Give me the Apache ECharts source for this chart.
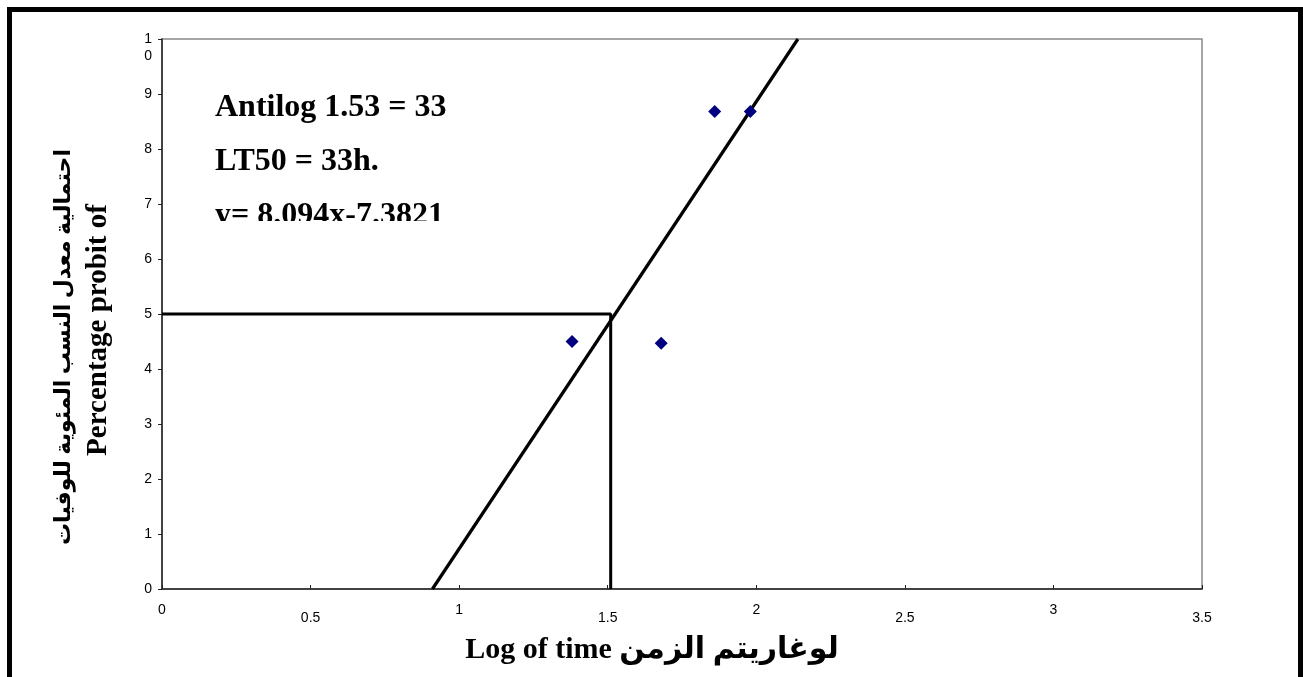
<!DOCTYPE html>
<html>
<head>
<meta charset="utf-8">
<title>LT50 probit</title>
<script src="https://cdn.jsdelivr.net/npm/echarts@6/dist/echarts.min.js"></script>
<style>
  html, body { margin: 0; padding: 0; background: #fff; }
  #main { width: 1303px; height: 677px; }
</style>
</head>
<body>
<div id="main"></div>
<script>
// 数据：时间对数 与 死亡率概率值
var logTime = [1.38, 1.68, 1.86, 1.98];
var probit = [4.5, 4.47, 8.68, 8.68];
// 回归线两端
var fitX = [0.91, 2.14];
var fitY = [0, 10];
// LT50 引导线
var dropX = [0, 1.51, 1.51];
var dropY = [5, 5, 0];
// 文字
var noteLines = ['Antilog 1.53 = 33', 'LT50 = 33h.', 'y= 8.094x-7.3821'];
var yTitleAr = 'احتمالية معدل النسب المئوية للوفيات';
var yTitleEn = 'Percentage probit of';
var xTitle = 'Log of time لوغاريتم الزمن';

function pairs(xs, ys) {
	var out = [];
	for (var i = 0; i < xs.length; i++) {
		out.push([xs[i], ys[i]]);
	}
	return out;
}

var myChart = echarts.init(document.getElementById('main'));
var serif = '"Times New Roman", "Liberation Serif", "DejaVu Sans", serif';
var sans = 'Arial, "Liberation Sans", sans-serif';

var option = {
	animation: false,
	backgroundColor: '#fff',
	grid: {
		left: 162,
		top: 39,
		right: 101,
		bottom: 88,
		show: true,
		borderColor: '#888',
		borderWidth: 1.5,
		backgroundColor: 'transparent'
	},
	xAxis: {
		type: 'value',
		min: 0,
		max: 3.5,
		interval: 0.5,
		axisLine: { onZero: false, lineStyle: { color: '#222', width: 1.5 } },
		axisTick: { show: true, inside: true, length: 4, lineStyle: { color: '#222' } },
		splitLine: { show: false },
		axisLabel: {
			color: '#000',
			fontFamily: sans,
			fontSize: 14,
			margin: 17,
			lineHeight: 8,
			formatter: function(v) {
				// 半值标签错开一行
				return (v % 1 !== 0) ? ' \n' + v : '' + v;
			}
		}
	},
	yAxis: {
		type: 'value',
		min: 0,
		max: 10,
		interval: 1,
		axisLine: { show: true, onZero: false, lineStyle: { color: '#222', width: 1.5 } },
		axisTick: { show: true, length: 4, lineStyle: { color: '#222' } },
		splitLine: { show: false },
		axisLabel: {
			color: '#000',
			fontFamily: sans,
			fontSize: 14,
			margin: 10,
			lineHeight: 17,
			formatter: function(v) {
				return v === 10 ? ' \n1\n0' : '' + v;
			}
		}
	},
	series: [
		{
			name: 'drop',
			type: 'line',
			data: pairs(dropX, dropY),
			showSymbol: false,
			lineStyle: { color: '#000', width: 3 },
			z: 3
		},
		{
			name: 'fit',
			type: 'line',
			data: pairs(fitX, fitY),
			showSymbol: false,
			lineStyle: { color: '#000', width: 3.2 },
			z: 3
		},
		{
			name: 'probit',
			type: 'scatter',
			data: pairs(logTime, probit),
			symbol: 'diamond',
			symbolSize: 13,
			itemStyle: { color: '#000080', opacity: 1 },
			z: 4
		}
	],
	graphic: [
		// 外框
		{
			type: 'rect',
			shape: { x: 9.5, y: 9.5, width: 1291, height: 720 },
			style: { fill: 'none', stroke: '#000', lineWidth: 5 },
			silent: true
		},
		{
			type: 'text',
			x: 215, y: 108,
			style: { text: noteLines[0], font: 'bold 32px ' + serif, fill: '#000', textVerticalAlign: 'middle' },
			z: 10
		},
		{
			type: 'text',
			x: 215, y: 162,
			style: { text: noteLines[1], font: 'bold 32px ' + serif, fill: '#000', textVerticalAlign: 'middle' },
			z: 10
		},
		{
			type: 'text',
			x: 215, y: 216,
			style: { text: noteLines[2], font: 'bold 32px ' + serif, fill: '#000', textVerticalAlign: 'middle' },
			z: 10
		},
		// 文本框裁切
		{
			type: 'rect',
			shape: { x: 200, y: 221, width: 270, height: 24 },
			style: { fill: '#fff' },
			z: 11
		},
		{
			type: 'text',
			x: 64, y: 347,
			rotation: Math.PI / 2,
			style: { text: yTitleAr, font: 'bold 22px ' + serif, fill: '#000', textAlign: 'center', textVerticalAlign: 'middle' },
			z: 10
		},
		{
			type: 'text',
			x: 99, y: 330,
			rotation: Math.PI / 2,
			style: { text: yTitleEn, font: 'bold 29px ' + serif, fill: '#000', textAlign: 'center', textVerticalAlign: 'middle' },
			z: 10
		},
		{
			type: 'text',
			x: 652, y: 650,
			style: { text: xTitle, font: 'bold 30px ' + serif, fill: '#000', textAlign: 'center', textVerticalAlign: 'middle' },
			z: 10
		}
	]
};

myChart.setOption(option);
window.addEventListener('resize', function() {
	myChart.resize();
});
</script>
</body>
</html>
